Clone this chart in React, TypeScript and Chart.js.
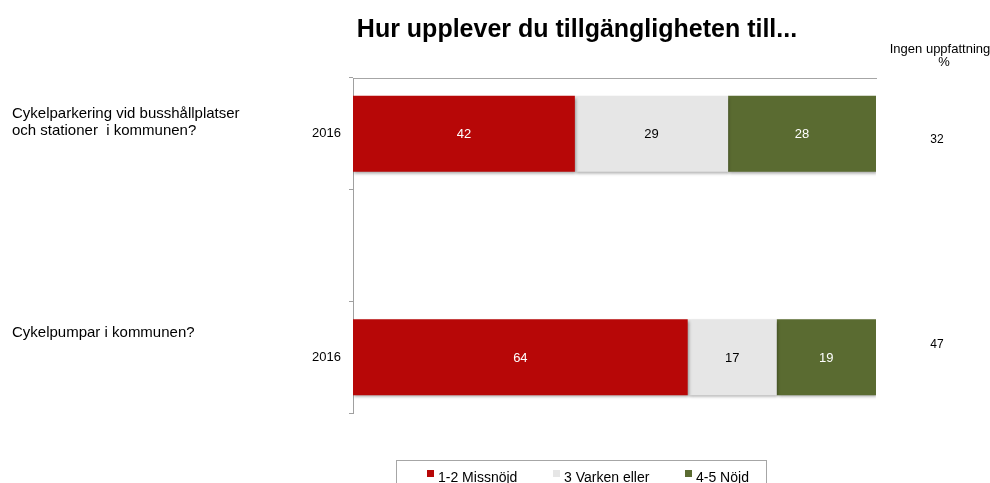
import { useEffect, useRef } from "react";
import { Chart, registerables } from "chart.js";

Chart.register(...registerables);

const FONT = '"Liberation Sans", Arial, Helvetica, sans-serif';

// ---- data ----
const title = "Hur upplever du tillgängligheten till...";
const categories = ["2016", "", "2016"];
const questionLabels = [
  ["Cykelparkering vid busshållplatser", "och stationer  i kommunen?"],
  [],
  ["Cykelpumpar i kommunen?"],
];
const seriesNames = ["1-2 Missnöjd", "3 Varken eller", "4-5 Nöjd"];
const missnojd = [42, null, 64];
const varken = [29, null, 17];
const nojd = [28, null, 19];
const ingenUppfattning = [32, null, 47];
const sideHeader = ["Ingen uppfattning", "%"];

// ---- style ----
const colors = ["#B70707", "#E6E6E6", "#5A6B31"];
const labelColors = ["#FFFFFF", "#000000", "#FFFFFF"];
const questionOffsets = [-20, 0, -24];
const sideOffsets = [6, 0, -12];

const series = [missnojd, varken, nojd];
const totals = categories.map((_, i) =>
  series.reduce((s, arr) => s + ((arr[i] as number | null) ?? 0), 0)
);
const shares = series.map((arr) =>
  arr.map((v, i) => (v == null ? null : ((v as number) / totals[i]) * 100))
);

const overlay = {
  id: "overlay",
  beforeDatasetDraw(chart: any) {
    const ctx = chart.ctx;
    ctx.save();
    ctx.shadowColor = "rgba(0,0,0,0.35)";
    ctx.shadowBlur = 3;
    ctx.shadowOffsetX = 1;
    ctx.shadowOffsetY = 2;
  },
  afterDatasetDraw(chart: any) {
    chart.ctx.restore();
  },
  afterDatasetsDraw(chart: any) {
    const ctx = chart.ctx;
    ctx.save();
    ctx.font = `13px ${FONT}`;
    ctx.textAlign = "center";
    ctx.textBaseline = "middle";
    series.forEach((arr, d) => {
      const meta = chart.getDatasetMeta(d);
      arr.forEach((v, i) => {
        if (v == null) return;
        const el = meta.data[i];
        ctx.fillStyle = labelColors[d];
        ctx.fillText(String(v), (el.x + el.base) / 2, el.y + 1);
      });
    });
    ctx.restore();
  },
  afterDraw(chart: any) {
    const ctx = chart.ctx;
    const yScale = chart.scales.y;
    ctx.save();
    // title
    ctx.fillStyle = "#000";
    ctx.font = `bold 25px ${FONT}`;
    ctx.textAlign = "center";
    ctx.textBaseline = "alphabetic";
    ctx.fillText(title, 577, 37);

    // question labels
    ctx.font = `15px ${FONT}`;
    ctx.textAlign = "left";
    ctx.textBaseline = "middle";
    questionLabels.forEach((lines, i) => {
      const yc = yScale.getPixelForValue(i);
      lines.forEach((ln, k) => {
        ctx.fillText(ln, 12, yc + questionOffsets[i] + k * 17);
      });
    });

    // side header
    ctx.font = `13px ${FONT}`;
    ctx.textAlign = "center";
    ctx.fillText(sideHeader[0], 940, 49);
    ctx.fillText(sideHeader[1], 944, 62);

    // side values
    ctx.font = `12px ${FONT}`;
    ingenUppfattning.forEach((v, i) => {
      if (v == null) return;
      const yc = yScale.getPixelForValue(i);
      ctx.fillText(String(v), 937, yc + sideOffsets[i]);
    });

    // legend
    ctx.strokeStyle = "#A6A6A6";
    ctx.lineWidth = 1;
    ctx.strokeRect(396.5, 460.5, 370, 40);
    const items = [427, 553, 685];
    ctx.font = `14px ${FONT}`;
    ctx.textAlign = "left";
    ctx.textBaseline = "alphabetic";
    chart.data.datasets.forEach((ds: any, d: number) => {
      const x = items[d];
      ctx.fillStyle = ds.backgroundColor;
      ctx.fillRect(x, 470, 7, 7);
      ctx.fillStyle = "#000";
      ctx.fillText(ds.label, x + 11, 482);
    });
    ctx.restore();
  },
};

export default function App() {
  const ref = useRef<HTMLCanvasElement | null>(null);
  useEffect(() => {
    if (!ref.current) return;
    const chart = new Chart(ref.current, {
      type: "bar",
      data: {
        labels: categories,
        datasets: shares.map((arr, d) => ({
          label: seriesNames[d],
          data: arr,
          backgroundColor: colors[d],
          borderWidth: 0,
          categoryPercentage: 0.8,
          barPercentage: 0.85,
        })),
      },
      options: {
        indexAxis: "y",
        responsive: false,
        animation: false,
        devicePixelRatio: 1,
        layout: { padding: { left: 303, right: 114, top: 78, bottom: 70 } },
        plugins: {
          legend: { display: false },
          tooltip: { enabled: false },
          title: { display: false },
        },
        scales: {
          x: {
            stacked: true,
            min: 0,
            max: 100,
            position: "top",
            grid: { display: false },
            border: { display: true, color: "#A6A6A6", width: 1 },
            ticks: { display: false },
            afterFit: (s: any) => {
              s.height = 0;
            },
          },
          y: {
            stacked: true,
            position: "left",
            grid: {
              display: true,
              drawOnChartArea: false,
              drawTicks: true,
              tickLength: 4,
              color: "#A0A0A0",
              offset: true,
            },
            border: { display: true, color: "#A0A0A0", width: 1 },
            ticks: { color: "#000", font: { family: FONT, size: 13 }, padding: 8 },
            afterFit: (s: any) => {
              s.width = 50;
            },
          },
        },
      } as any,
      plugins: [overlay],
    });
    return () => chart.destroy();
  }, []);
  return (
    <div style={{ position: "absolute", left: 0, top: 0, width: 990, height: 483 }}>
      <canvas ref={ref} width={990} height={483} style={{ display: "block" }} />
    </div>
  );
}
